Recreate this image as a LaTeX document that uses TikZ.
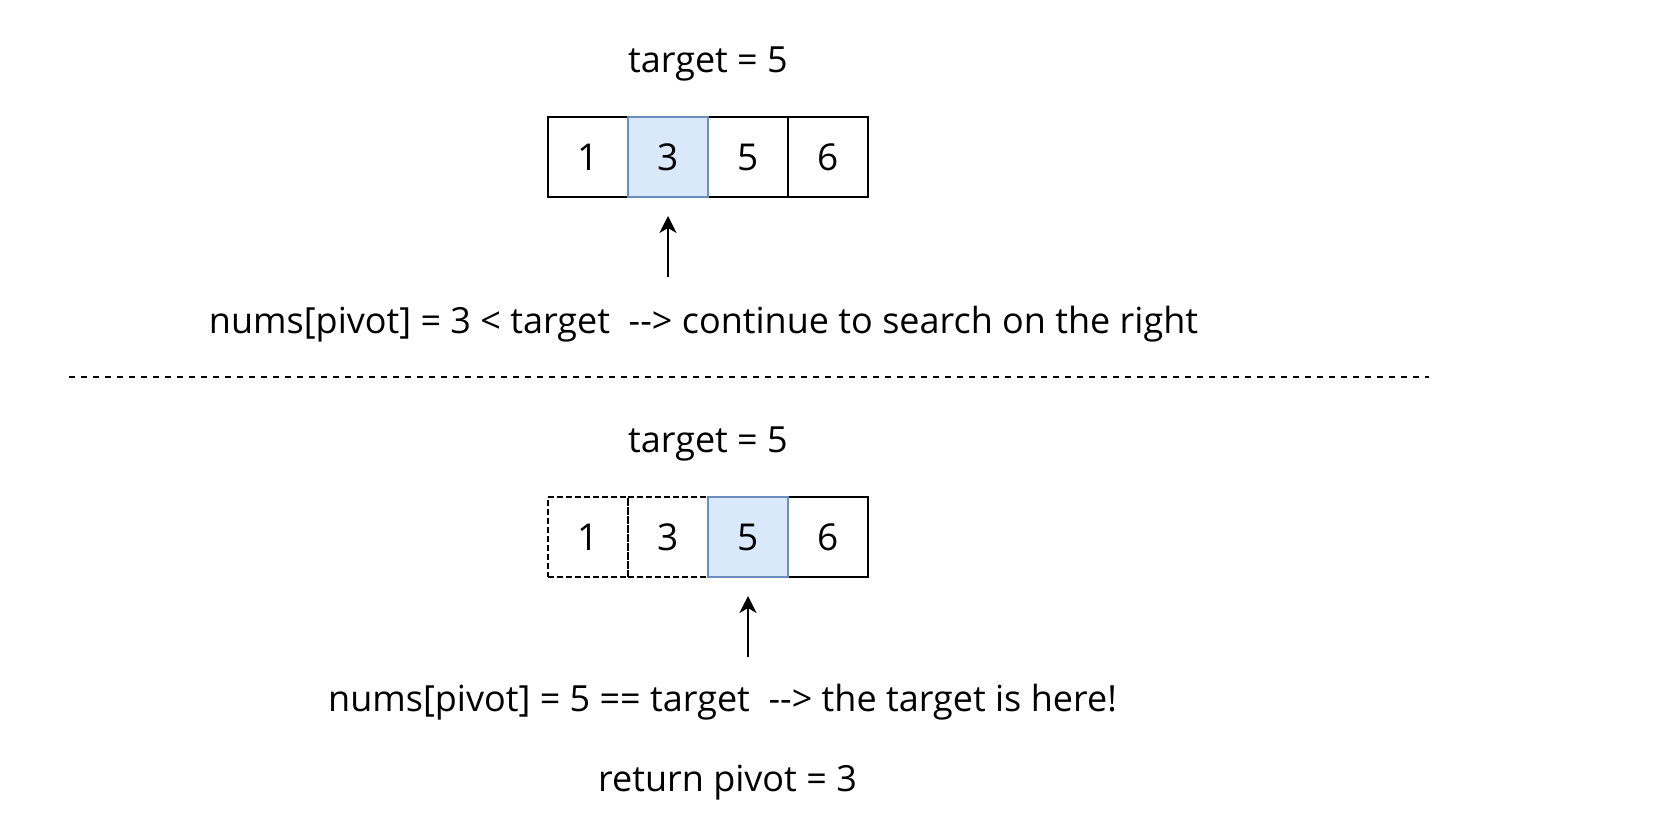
\documentclass[tikz,border=0pt]{standalone}
\usepackage{fontspec}
\setmainfont{Open Sans}[Ligatures=NoCommon]
\usetikzlibrary{arrows.meta}
\definecolor{bluefill}{HTML}{DAE8FC}
\definecolor{bluedraw}{HTML}{6C8EBF}
\newcommand{\darr}{-{}-{}>}
\newcommand{\dg}[1]{\raisebox{-3pt}{#1}}
\tikzset{
  txt/.style={font=\fontsize{36}{42}\selectfont, inner sep=0pt, anchor=base},
  cell/.style={minimum width=80pt, minimum height=80pt, inner sep=0pt, line width=2pt, font=\fontsize{37}{42}\selectfont},
  plain/.style={cell, draw=black},
  hilite/.style={cell, draw=bluedraw, fill=bluefill},
  ghost/.style={cell, draw=black, dash pattern=on 6pt off 3pt},
  arr/.style={line width=2pt, -{Stealth[length=17pt, width=17pt, inset=5pt]}},
  sep/.style={line width=2pt, dash pattern=on 6pt off 6pt}
}
\begin{document}
\begin{tikzpicture}[x=1pt, y=-1pt]
\useasboundingbox (0,0) rectangle (1676,828);
% top state
\node[txt] (t1) at (708,72.7) {target = 5};
\node[plain] (a1) at (588,157) {\dg{1}};
\node[plain] (a3) at (748,157) {\dg{5}};
\node[plain] (a4) at (828,157) {\dg{6}};
\node[hilite] (a2) at (668,157) {\dg{3}};
\coordinate (p1s) at (668,277);
\coordinate (p1e) at (668,216);
\draw[arr] (p1s) -- (p1e);
\node[txt] (l1) at (703.5,333) {nums[pivot] = 3 < target\ \ \darr{} continue to search on the right};
% separator
\coordinate (sl) at (69,377);
\coordinate (sr) at (1429,377);
\draw[sep] (sl) -- (sr);
% bottom state
\node[txt] (t2) at (708,452.7) {target = 5};
\node[ghost] (b1) at (588,537) {\dg{1}};
\node[ghost] (b2) at (668,537) {\dg{3}};
\node[plain] (b4) at (828,537) {\dg{6}};
\node[hilite] (b3) at (748,537) {\dg{5}};
\coordinate (p2s) at (748,657);
\coordinate (p2e) at (748,596);
\draw[arr] (p2s) -- (p2e);
\node[txt] (l2) at (722.5,711.7) {nums[pivot] = 5 == target\ \ \darr{} the target is here!};
\node[txt] (l3) at (727.5,791.7) {return pivot = 3};
\end{tikzpicture}
\end{document}
